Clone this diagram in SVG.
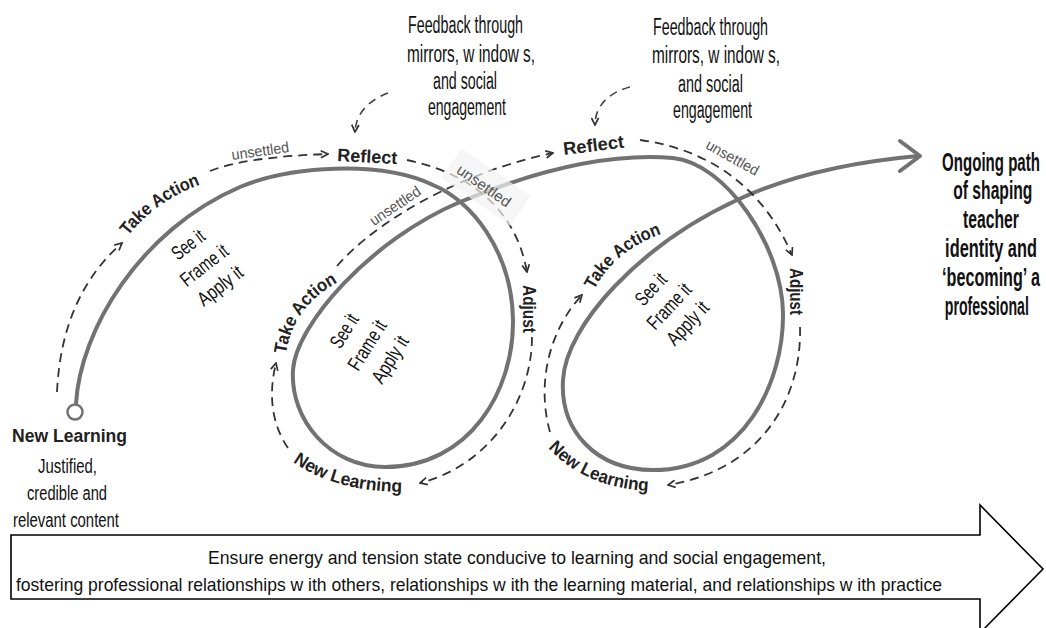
<svg xmlns="http://www.w3.org/2000/svg" width="1046" height="628" viewBox="0 0 1046 628">
<defs>
<style>
text{font-family:"Liberation Sans Narrow","Liberation Sans",Arial,sans-serif}
.lb{font-weight:bold;font-size:18px;fill:#222}
.bd{font-size:20px;fill:#111}
.fb{font-size:23px;fill:#111}
.un{font-size:15px;fill:#555}
.rt{font-size:25px;font-weight:bold;fill:#111}
.ar{font-size:19px;fill:#111}
.main{fill:none;stroke:#727272;stroke-width:4;stroke-linecap:round;stroke-linejoin:round}
.dash{fill:none;stroke:#333;stroke-width:1.8;stroke-dasharray:9 6;marker-end:url(#ch)}
.fbk{fill:none;stroke:#444;stroke-width:1.6;stroke-dasharray:8 6;marker-end:url(#ch)}
</style>
<marker id="ch" viewBox="0 0 10 10" refX="9" refY="5" markerWidth="9" markerHeight="9" markerUnits="userSpaceOnUse" orient="auto"><path d="M1,1 L9,5 L1,9" fill="none" stroke="#333" stroke-width="1.9"/></marker>
<path id="pTA0" d="M128,236 Q158,198 208,182"/>
<path id="pTA1" d="M286,354 Q292,308 338,282"/>
<path id="pTA2" d="M594,290 Q615,250 664,233"/>
<path id="pNL1" d="M293,462 Q335,492 405,492"/>
<path id="pNL2" d="M548,448 Q585,488 650,491"/>
</defs>
<rect width="1046" height="628" fill="#fff"/>

<g id="connectors">
<path class="main" d="M76,404 C80,330 140,230 240,187 C290,166 380,160 433,185 C470,200 512,250 513,320 C514,390 470,467 385,467 C330,467 290,420 293,370 C296,325 370,240 460,202 C520,177 600,152 673,158 C725,163 782,245 783,313 C784,380 745,470 653,470 C595,470 560,430 563,380 C566,325 640,245 737,200 C780,180 840,163 918,156"/>
<path class="main" d="M900,141 L920,156 L900,171"/>
<path class="dash" d="M57,392 C60,330 80,280 122,243"/>
<path class="dash" d="M210,171 Q245,157 328,154"/>
<path class="dash" d="M407,160 C465,172 515,205 527,272"/>
<path class="dash" d="M532,337 C532,400 490,465 420,483"/>
<path class="dash" d="M288,448 C272,425 268,395 276,363"/>
<path class="dash" d="M337,266 C375,222 460,172 553,153"/>
<path class="dash" d="M640,140 C700,148 760,180 792,255"/>
<path class="dash" d="M800,327 C802,400 760,470 668,485"/>
<path class="dash" d="M550,432 C538,390 545,335 582,295"/>
<path class="fbk" d="M388,93 C370,100 356,112 355,132"/>
<path class="fbk" d="M630,87 C610,92 595,105 595,125"/>
</g>

<g id="start-node">
<circle cx="75" cy="412" r="7.5" fill="#fff" stroke="#727272" stroke-width="2.5"/>
<text class="lb" x="12" y="442" font-size="19" textLength="115" lengthAdjust="spacingAndGlyphs">New Learning</text>
<text class="bd" x="38" y="473" textLength="59" lengthAdjust="spacingAndGlyphs">Justified,</text>
<text class="bd" x="27" y="500" textLength="80" lengthAdjust="spacingAndGlyphs">credible and</text>
<text class="bd" x="13" y="527" textLength="106" lengthAdjust="spacingAndGlyphs">relevant content</text>
</g>

<g id="take-action-1">
<text class="lb"><textPath href="#pTA0" textLength="90" lengthAdjust="spacingAndGlyphs">Take Action</textPath></text>
<g class="bd" text-anchor="middle" transform="translate(204,265) rotate(-38)">
<text y="-19" textLength="36" lengthAdjust="spacingAndGlyphs">See it</text>
<text y="7" textLength="55" lengthAdjust="spacingAndGlyphs">Frame it</text>
<text y="33" textLength="52" lengthAdjust="spacingAndGlyphs">Apply it</text>
</g>
</g>

<g id="unsettled-1"><text class="un" text-anchor="middle" transform="translate(261,156) rotate(-8)" textLength="58" lengthAdjust="spacingAndGlyphs">unsettled</text></g>

<g id="reflect-1"><text class="lb" font-size="19" transform="translate(337,161) rotate(3)" textLength="60" lengthAdjust="spacingAndGlyphs">Reflect</text></g>

<g id="feedback-1" class="fb">
<text x="408" y="33" textLength="115" lengthAdjust="spacingAndGlyphs">Feedback through</text>
<text x="407" y="62" textLength="128" lengthAdjust="spacingAndGlyphs">mirrors, w indow s,</text>
<text x="433" y="89" textLength="64" lengthAdjust="spacingAndGlyphs">and social</text>
<text x="428" y="115" textLength="78" lengthAdjust="spacingAndGlyphs">engagement</text>
</g>

<g id="unsettled-2"><text class="un" text-anchor="middle" transform="translate(398,210) rotate(-34)" textLength="58" lengthAdjust="spacingAndGlyphs">unsettled</text></g>

<g id="unsettled-3">
<rect x="-42" y="-18" width="84" height="36" transform="translate(486,187) rotate(35)" fill="#f2f2f2" fill-opacity="0.7"/>
<text class="un" text-anchor="middle" transform="translate(481,190) rotate(35)" textLength="62" lengthAdjust="spacingAndGlyphs">unsettled</text>
</g>

<g id="adjust-1"><text class="lb" transform="translate(523,285) rotate(90)" textLength="48" lengthAdjust="spacingAndGlyphs">Adjust</text></g>

<g id="new-learning-1"><text class="lb"><textPath href="#pNL1" textLength="115" lengthAdjust="spacingAndGlyphs">New Learning</textPath></text></g>

<g id="take-action-2">
<text class="lb"><textPath href="#pTA1" textLength="92" lengthAdjust="spacingAndGlyphs">Take Action</textPath></text>
<g class="bd" text-anchor="middle" transform="translate(367,345) rotate(-58)">
<text y="-20" textLength="36" lengthAdjust="spacingAndGlyphs">See it</text>
<text y="7" textLength="55" lengthAdjust="spacingAndGlyphs">Frame it</text>
<text y="34" textLength="52" lengthAdjust="spacingAndGlyphs">Apply it</text>
</g>
</g>

<g id="reflect-2"><text class="lb" font-size="19" transform="translate(564,155) rotate(-7)" textLength="61" lengthAdjust="spacingAndGlyphs">Reflect</text></g>

<g id="feedback-2" class="fb">
<text x="653" y="35" textLength="115" lengthAdjust="spacingAndGlyphs">Feedback through</text>
<text x="652" y="63" textLength="128" lengthAdjust="spacingAndGlyphs">mirrors, w indow s,</text>
<text x="678" y="92" textLength="65" lengthAdjust="spacingAndGlyphs">and social</text>
<text x="673" y="118" textLength="79" lengthAdjust="spacingAndGlyphs">engagement</text>
</g>

<g id="unsettled-4"><text class="un" text-anchor="middle" transform="translate(730,162) rotate(29)" textLength="58" lengthAdjust="spacingAndGlyphs">unsettled</text></g>

<g id="adjust-2"><text class="lb" transform="translate(790,268) rotate(90)" textLength="47" lengthAdjust="spacingAndGlyphs">Adjust</text></g>

<g id="new-learning-2"><text class="lb"><textPath href="#pNL2" textLength="112" lengthAdjust="spacingAndGlyphs">New Learning</textPath></text></g>

<g id="take-action-3">
<text class="lb"><textPath href="#pTA2" textLength="90" lengthAdjust="spacingAndGlyphs">Take Action</textPath></text>
<g class="bd" text-anchor="middle" transform="translate(669,306) rotate(-47)">
<text y="-18" textLength="36" lengthAdjust="spacingAndGlyphs">See it</text>
<text y="7" textLength="55" lengthAdjust="spacingAndGlyphs">Frame it</text>
<text y="32" textLength="52" lengthAdjust="spacingAndGlyphs">Apply it</text>
</g>
</g>

<g id="ongoing-path" class="rt" text-anchor="middle" transform="translate(991,0) scale(0.6,1)">
<text x="0" y="171" textLength="163" lengthAdjust="spacingAndGlyphs">Ongoing path</text>
<text x="3" y="199" textLength="132" lengthAdjust="spacingAndGlyphs">of shaping</text>
<text x="0" y="228" textLength="93" lengthAdjust="spacingAndGlyphs">teacher</text>
<text x="0" y="257" textLength="153" lengthAdjust="spacingAndGlyphs">identity and</text>
<text x="0" y="286" textLength="163" lengthAdjust="spacingAndGlyphs">‘becoming’ a</text>
<text x="-7" y="315" textLength="140" lengthAdjust="spacingAndGlyphs">professional</text>
</g>

<g id="bottom-arrow">
<polygon points="11,535 980,535 980,505 1043,569 980,633 980,599 11,599" fill="#fff" stroke="#000" stroke-width="1.6"/>
<text class="ar" x="208" y="564" textLength="618" lengthAdjust="spacingAndGlyphs">Ensure energy and tension state conducive to learning and social engagement,</text>
<text class="ar" x="16" y="591" textLength="926" lengthAdjust="spacingAndGlyphs">fostering professional relationships w ith others, relationships w ith the learning material, and relationships w ith practice</text>
</g>
</svg>
